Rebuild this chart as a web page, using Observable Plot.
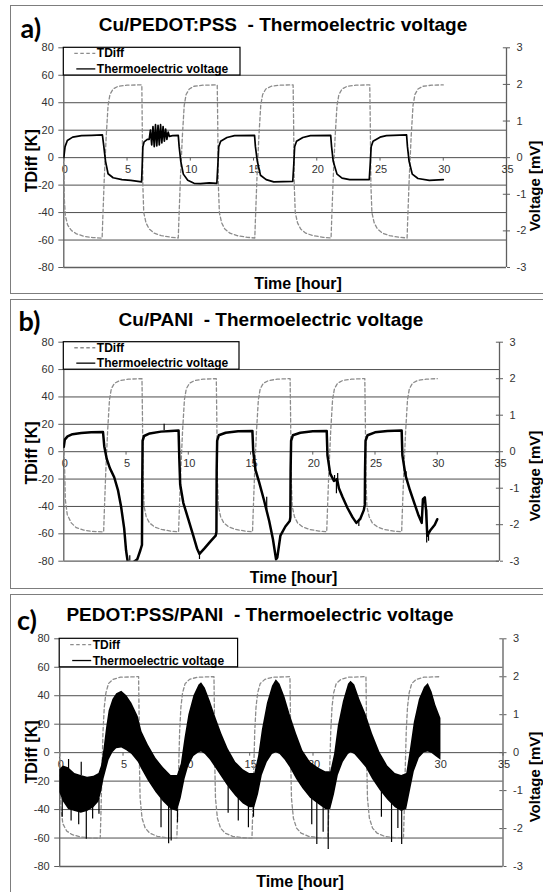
<!DOCTYPE html>
<html><head><meta charset="utf-8">
<script src="https://cdn.jsdelivr.net/npm/d3@7"></script>
<script src="https://cdn.jsdelivr.net/npm/@observablehq/plot@0.6"></script>
<style>
body{margin:0;width:543px;height:892px;overflow:hidden;background:#fff;position:relative;font-family:"Liberation Sans",Arial,sans-serif}
.panel{position:absolute;left:10px;width:620px;border:1.5px solid #7d7d7d;box-sizing:border-box;background:#fff}
.plotbox{position:absolute;left:0}
svg text{white-space:pre}
</style></head><body>
<div class="panel" style="top:5px;height:289px"></div>
<div class="panel" style="top:299px;height:290px"></div>
<div class="panel" style="top:594px;height:320px"></div>
<div id="pa" class="plotbox" style="top:0px"></div>
<div id="pb" class="plotbox" style="top:299px"></div>
<div id="pc" class="plotbox" style="top:594px"></div>
<script>
// ---- axes / ticks ----
const xTicks = [0, 5, 10, 15, 20, 25, 30, 35];
const leftTicks = [-80, -60, -40, -20, 0, 20, 40, 60, 80];
const rightTicks = [-3, -2, -1, 0, 1, 2, 3];
const gridLevels = [-60, -40, -20, 0, 20, 40, 60];
const titles = ["Cu/PEDOT:PSS  - Thermoelectric voltage", "Cu/PANI  - Thermoelectric voltage", "PEDOT:PSS/PANI  - Thermoelectric voltage"];
const panelLabels = ["a)", "b)", "c)"];
const seriesNames = ["TDiff", "Thermoelectric voltage"];

// ---- panel a : [hour, K] and [hour, mV] ----
const tdiffA = [
[0,0],[0.04,-30],[0.12,-42],[0.3,-49],[0.6,-53],[1.0,-55.5],[1.6,-57.3],[2.3,-58.2],[3.03,-58.6],
[3.08,-45],[3.2,-15],[3.35,15],[3.5,38],[3.65,46],[3.9,50],[4.3,52],[5,52.8],[6.17,53],
[6.2,25],[6.25,-20],[6.32,-40],[6.5,-47.5],[6.75,-52],[7.15,-55],[7.7,-56.8],[8.5,-58],[9.05,-58.5],
[9.1,-45],[9.22,-15],[9.37,15],[9.52,38],[9.67,46],[9.92,50],[10.3,52],[11,52.8],[12.13,53],
[12.17,25],[12.22,-20],[12.3,-40],[12.48,-47.5],[12.73,-52],[13.13,-55],[13.7,-56.8],[14.5,-58],[15.1,-58.5],
[15.15,-45],[15.27,-15],[15.42,15],[15.57,38],[15.72,46],[15.97,50],[16.4,52],[17.1,52.8],[18.13,53],
[18.17,25],[18.22,-20],[18.3,-40],[18.48,-47.5],[18.73,-52],[19.13,-55],[19.7,-56.8],[20.5,-58],[21.13,-58.5],
[21.18,-45],[21.3,-15],[21.45,15],[21.6,38],[21.75,46],[22.0,50],[22.4,52],[23.1,52.8],[24.19,53],
[24.23,25],[24.28,-20],[24.36,-40],[24.54,-47.5],[24.8,-52],[25.2,-55],[25.75,-56.8],[26.5,-58],[27.14,-58.5],
[27.19,-45],[27.31,-15],[27.46,15],[27.61,38],[27.76,46],[28.0,50],[28.4,52],[29.1,52.8],[30,53]
];
const voltA = [
[0,0],[0.1,0.3],[0.28,0.47],[0.7,0.56],[1.4,0.6],[2.2,0.61],[3.05,0.62],
[3.15,0.35],[3.3,-0.1],[3.5,-0.44],[3.9,-0.55],[4.6,-0.6],[5.3,-0.62],[6.15,-0.66],
[6.2,-0.2],[6.25,0.3],[6.35,0.43],[6.6,0.5],
[6.75,0.5],[6.85,0.75],[6.95,0.35],[7.05,0.85],[7.15,0.3],[7.25,0.9],[7.35,0.32],[7.45,0.88],[7.55,0.35],[7.65,0.9],[7.75,0.4],[7.85,0.85],[7.95,0.45],[8.05,0.78],[8.15,0.5],[8.25,0.7],[8.35,0.58],
[8.6,0.6],[9.05,0.61],
[9.12,0.3],[9.25,-0.1],[9.45,-0.45],[9.8,-0.62],[10.3,-0.7],[10.8,-0.71],[11.5,-0.69],[12.1,-0.7],
[12.18,-0.2],[12.25,0.3],[12.4,0.45],[12.9,0.55],[13.5,0.6],[15.08,0.61],
[15.15,0.3],[15.3,-0.1],[15.55,-0.48],[16,-0.6],[16.6,-0.66],[18.1,-0.65],
[18.18,-0.2],[18.25,0.3],[18.4,0.45],[18.9,0.55],[19.5,0.6],[21.1,0.61],
[21.17,0.3],[21.3,-0.1],[21.6,-0.45],[22,-0.56],[22.6,-0.6],[24.15,-0.6],
[24.22,-0.2],[24.3,0.3],[24.45,0.45],[25,0.56],[25.5,0.6],[27.1,0.62],
[27.17,0.3],[27.3,-0.1],[27.55,-0.45],[28,-0.57],[28.9,-0.62],[30,-0.6]
];

// ---- panel b ----
const tdiffB = [
[0,0],[0.06,-10],[0.12,-35],[0.28,-46],[0.6,-52],[1.0,-55.5],[1.6,-57.3],[2.3,-58.2],[3.2,-58.6],
[3.25,-45],[3.37,-15],[3.52,15],[3.67,38],[3.82,46],[4.07,50],[4.5,52],[5.2,53],[6.28,53.4],
[6.32,25],[6.37,-20],[6.45,-40],[6.62,-47.5],[6.88,-52],[7.3,-55],[7.85,-56.8],[8.6,-58],[9.22,-58.5],
[9.27,-45],[9.39,-15],[9.54,15],[9.69,38],[9.84,46],[10.1,50],[10.5,52],[11.2,53],[12.25,53.4],
[12.29,25],[12.34,-20],[12.42,-40],[12.6,-47.5],[12.85,-52],[13.25,-55],[13.8,-56.8],[14.6,-58],[15.16,-58.5],
[15.21,-45],[15.33,-15],[15.48,15],[15.63,38],[15.78,46],[16.03,50],[16.45,52],[17.15,53],[18.18,53.4],
[18.22,25],[18.27,-20],[18.35,-40],[18.53,-47.5],[18.78,-52],[19.2,-55],[19.75,-56.8],[20.5,-58],[21.12,-58.5],
[21.17,-45],[21.29,-15],[21.44,15],[21.59,38],[21.74,46],[21.99,50],[22.4,52],[23.1,53],[24.18,53.4],
[24.22,25],[24.27,-20],[24.35,-40],[24.53,-47.5],[24.78,-52],[25.2,-55],[25.75,-56.8],[26.5,-58],[27.14,-58.5],
[27.19,-45],[27.31,-15],[27.46,15],[27.61,38],[27.76,46],[28.01,50],[28.4,52],[29.1,53],[30,53.4]
];
const voltB = [
[0,0.13],[0.08,0.33],[0.3,0.42],[0.7,0.48],[1.4,0.51],[2.2,0.53],[3.15,0.54],
[3.25,0.15],[3.45,-0.2],[3.7,-0.45],[4.05,-0.7],[4.35,-1.05],[4.6,-1.5],[4.85,-2.1],[5.0,-2.7],[5.15,-3.05],[5.5,-3.05],[5.9,-2.95],[6.15,-2.7],[6.28,-2.55],
[6.3,-1.0],[6.33,0.3],[6.45,0.43],[6.9,0.5],[7.8,0.55],[8.6,0.57],[9.22,0.58],
[9.28,-0.2],[9.35,-0.9],[9.6,-1.4],[10.0,-1.85],[10.4,-2.3],[10.7,-2.65],[10.9,-2.8],[11.3,-2.65],[11.8,-2.45],[12.2,-2.3],[12.26,-2.2],
[12.28,-0.5],[12.32,0.3],[12.45,0.45],[13.0,0.52],[14.0,0.56],[15.15,0.57],
[15.22,0.0],[15.4,-0.5],[15.7,-0.85],[16.1,-1.35],[16.5,-1.9],[16.8,-2.4],[17.05,-2.95],[17.15,-2.9],[17.4,-2.3],[17.8,-2.05],[18.15,-1.9],[18.2,-1.8],
[18.22,-0.5],[18.26,0.3],[18.4,0.45],[19,0.52],[20,0.56],[21.12,0.57],
[21.18,-0.1],[21.4,-0.6],[21.7,-0.8],[21.95,-0.75],[22.1,-1.0],[22.4,-1.25],[22.8,-1.55],[23.2,-1.8],[23.5,-1.95],[23.8,-1.85],[24.1,-1.6],[24.18,-1.45],
[24.2,-0.5],[24.24,0.3],[24.4,0.45],[25,0.53],[26,0.57],[27.14,0.58],
[27.2,-0.1],[27.45,-0.65],[27.8,-1.05],[28.2,-1.45],[28.5,-1.75],[28.75,-1.95],[28.85,-1.3],[29.0,-1.25],[29.1,-1.6],[29.2,-2.3],[29.45,-2.15],[29.8,-2.0],[30,-1.85]
];
// [hour, from mV, to mV] isolated spikes on the b trace
const spikesB = [
[8.06,0.58,0.75],[16.3,-1.6,-1.25],[21.75,-0.8,-0.65],[21.9,-0.78,-1.15],[22.0,-0.8,-0.6],[23.7,-1.85,-2.05],
[27.5,-0.7,-0.55],[29.15,-1.6,-2.5],[29.3,-2.2,-2.45],[10.9,-2.8,-2.95],[5.3,-3.0,-2.85]
];

// ---- panel c ----
const tdiffC = [
[0,0],[0.04,-15],[0.08,-38],[0.25,-50],[0.55,-55],[0.95,-57.5],[1.6,-59.2],[2.4,-60],[3.2,-60.2],
[3.25,-45],[3.33,-15],[3.42,15],[3.52,32],[3.65,42],[3.85,48.5],[4.2,51.5],[4.8,53],[6.23,53.4],
[6.27,25],[6.3,-10],[6.35,-32],[6.5,-46],[6.75,-53],[7.1,-56.5],[7.7,-58.8],[8.5,-59.8],[9.25,-60.2],
[9.3,-45],[9.38,-15],[9.47,15],[9.57,32],[9.7,42],[9.9,48.5],[10.25,51.5],[10.85,53],[12.18,53.4],
[12.22,25],[12.25,-10],[12.3,-32],[12.45,-46],[12.7,-53],[13.05,-56.5],[13.65,-58.8],[14.45,-59.8],[15.18,-60.2],
[15.23,-45],[15.31,-15],[15.4,15],[15.5,32],[15.63,42],[15.83,48.5],[16.2,51.5],[16.8,53],[18.18,53.4],
[18.22,25],[18.25,-10],[18.3,-32],[18.45,-46],[18.7,-53],[19.05,-56.5],[19.65,-58.8],[20.45,-59.8],[21.18,-60.2],
[21.23,-45],[21.31,-15],[21.4,15],[21.5,32],[21.63,42],[21.83,48.5],[22.2,51.5],[22.8,53],[24.18,53.4],
[24.22,25],[24.25,-10],[24.3,-32],[24.45,-46],[24.7,-53],[25.05,-56.5],[25.65,-58.8],[26.45,-59.8],[27.14,-60.2],
[27.19,-45],[27.27,-15],[27.36,15],[27.46,32],[27.59,42],[27.79,48.5],[28.15,51.5],[28.75,53],[30.1,53.4]
];
// [hour, lower mV, upper mV] envelope of the noisy voltage trace
const bandC = [
[0.0,-1.05,-0.45],[0.3,-1.3,-0.35],[0.7,-1.5,-0.4],[1.2,-1.55,-0.55],[1.7,-1.6,-0.6],[2.2,-1.55,-0.65],[2.7,-1.45,-0.62],[3.1,-1.3,-0.55],[3.3,-1.05,-0.35],
[3.5,-0.7,0.1],[3.7,-0.45,0.65],[3.9,-0.2,1.1],[4.2,0.0,1.4],[4.5,0.1,1.55],[4.9,0.12,1.62],[5.3,0.05,1.5],[5.7,-0.05,1.3],[6.2,-0.25,0.95],[6.5,-0.45,0.55],[7.0,-0.75,0.2],[7.6,-1.05,-0.15],[8.2,-1.3,-0.4],[8.8,-1.5,-0.6],[9.3,-1.55,-0.6],
[9.6,-1.2,-0.3],[9.9,-0.7,0.4],[10.2,-0.35,1.0],[10.6,-0.1,1.5],[11.0,0.0,1.78],[11.2,0.02,1.84],[11.5,-0.05,1.7],[11.9,-0.2,1.35],[12.3,-0.4,0.95],[12.8,-0.65,0.5],[13.3,-0.9,0.1],[13.9,-1.15,-0.25],[14.5,-1.35,-0.45],[15.0,-1.45,-0.55],[15.4,-1.45,-0.55],
[15.7,-1.1,-0.1],[16.0,-0.6,0.6],[16.4,-0.25,1.3],[16.8,-0.05,1.75],[17.1,0.0,1.92],[17.4,-0.05,1.8],[17.8,-0.2,1.45],[18.2,-0.4,1.0],[18.7,-0.7,0.5],[19.2,-0.95,0.05],[19.8,-1.2,-0.25],[20.4,-1.35,-0.4],[21.0,-1.5,-0.5],[21.4,-1.5,-0.5],
[21.7,-1.1,-0.05],[22.0,-0.6,0.7],[22.4,-0.25,1.35],[22.8,-0.05,1.8],[23.0,0.0,1.88],[23.3,-0.05,1.78],[23.7,-0.2,1.4],[24.2,-0.4,1.0],[24.7,-0.7,0.5],[25.3,-1.0,0.0],[25.9,-1.25,-0.35],[26.5,-1.45,-0.55],[27.0,-1.55,-0.6],[27.4,-1.5,-0.55],
[27.7,-1.0,0.1],[28.0,-0.5,0.8],[28.4,-0.15,1.4],[28.8,0.0,1.72],[29.1,0.02,1.82],[29.4,-0.02,1.6],[29.7,-0.1,1.25],[30.1,-0.2,0.9]
];
// [hour, from mV, to mV] isolated spikes
const spikesC = [
[0.2,-1.2,-1.7],[0.9,-1.4,-1.8],[1.5,-1.5,-1.9],[2.1,-1.5,-2.28],[2.6,-1.4,-1.75],[3.1,-1.2,-1.62],
[0.7,-0.45,-0.18],[1.7,-0.6,-0.25],
[8.0,-1.2,-1.98],[8.6,-1.4,-2.4],[8.8,-1.45,-2.33],[9.3,-1.5,-1.85],
[13.3,-0.9,-1.6],[14.1,-1.2,-1.8],[14.9,-1.4,-1.98],[15.3,-1.4,-1.7],
[19.9,-1.1,-1.9],[20.3,-1.3,-2.42],[20.8,-1.45,-2.1],[21.2,-1.5,-2.55],
[25.4,-1.0,-1.7],[26.2,-1.3,-2.37],[26.7,-1.4,-2.0],[27.0,-1.5,-2.42]
];

const K_PER_MV = 80 / 3;
const AX = "#5f5f5f";

function makePanel(o) {
  const marks = [
    Plot.ruleY(gridLevels, {stroke: "#4d4d4d", strokeWidth: 1}),
    Plot.ruleY([-80], {stroke: AX, strokeWidth: 1.3}),
    Plot.ruleX([0, 35], {stroke: AX, strokeWidth: 1.3}),
    Plot.axisY(leftTicks, {anchor: "left", tickSize: 5, tickPadding: 5, stroke: AX, fill: "#333", fontSize: 11, tickFormat: d => String(d), label: null}),
    Plot.axisY(rightTicks.map(v => v * K_PER_MV), {anchor: "right", tickSize: 3, tickPadding: 7, stroke: AX, fill: "#333", fontSize: 11, tickFormat: d => String(Math.round(d / K_PER_MV)), label: null}),
    Plot.ruleY(rightTicks.map(v => v * K_PER_MV), {x1: 34.75, x2: 35, stroke: AX}),
    Plot.ruleX(xTicks, {x: d => d, y1: 0, y2: -2.5, stroke: AX}),
    Plot.text(xTicks, {x: d => d, y: 0, dy: 12, dx: 1, text: d => String(d), fill: "#333", fontSize: 11}),
    Plot.line(o.tdiff, {x: d => d[0], y: d => d[1], stroke: "#8c8c8c", strokeWidth: 1.3, strokeDasharray: "3.5,2.5"})
  ];
  if (o.band) marks.push(Plot.areaY(o.band, {x: d => d[0], y1: d => d[1] * K_PER_MV, y2: d => d[2] * K_PER_MV, fill: "#000", clip: true}));
  if (o.spikes) marks.push(Plot.ruleX(o.spikes, {x: d => d[0], y1: d => d[1] * K_PER_MV, y2: d => d[2] * K_PER_MV, stroke: "#000", strokeWidth: 1.2, clip: true}));
  if (o.volt) marks.push(Plot.line(o.volt, {x: d => d[0], y: d => d[1] * K_PER_MV, stroke: "#000", strokeWidth: o.vw, strokeLinejoin: "round", clip: true}));
  return Plot.plot({
    width: 543, height: o.height,
    marginLeft: o.ml, marginRight: o.mr, marginTop: o.mt, marginBottom: o.mb,
    x: {domain: [0, 35], axis: null},
    y: {domain: [-80, 80]},
    style: {background: "transparent", fontFamily: "'Liberation Sans', Arial, sans-serif"},
    marks
  });
}

document.getElementById("pa").append(makePanel({tdiff: tdiffA, volt: voltA, vw: 1.7, height: 294, ml: 63.3, mr: 37, mt: 47.3, mb: 27}));
document.getElementById("pb").append(makePanel({tdiff: tdiffB, volt: voltB, spikes: spikesB, vw: 2.5, height: 290, ml: 63.3, mr: 44, mt: 42.7, mb: 28.3}));
document.getElementById("pc").append(makePanel({tdiff: tdiffC, band: bandC, spikes: spikesC, height: 298, ml: 59.2, mr: 40.5, mt: 44.3, mb: 26}));

// ---- overlay text: titles, labels, legends ----
const ov = d3.select("body").append("svg")
  .attr("width", 543).attr("height", 892)
  .style("position", "absolute").style("left", 0).style("top", 0)
  .style("font-family", "'Liberation Sans', Arial, sans-serif");

const layout = [
  {title: [283, 30.7], tag: [20.5, 38.3], time: [298, 288.5], tdiff: [37.4, 160.8], volt: [539.5, 186], leg: [63.3, 47.3, 240, 75]},
  {title: [271, 326], tag: [18.5, 330.5], time: [293.5, 582.5], tdiff: [37.4, 453], volt: [539.5, 476], leg: [63.3, 341.7, 239, 369.2]},
  {title: [260, 621], tag: [17, 630], time: [300, 887], tdiff: [37.4, 752], volt: [539.5, 777], leg: [59.2, 638.3, 237.6, 666.8]}
];
layout.forEach((L, i) => {
  ov.append("text").attr("x", L.title[0]).attr("y", L.title[1]).attr("text-anchor", "middle")
    .attr("font-size", 19).attr("font-weight", "bold").text(titles[i]);
  ov.append("text").attr("x", L.tag[0]).attr("y", L.tag[1]).attr("font-family", "Lato, 'Open Sans', sans-serif")
    .attr("font-size", 27).attr("font-weight", "bold").text(panelLabels[i]);
  ov.append("text").attr("x", L.time[0]).attr("y", L.time[1]).attr("text-anchor", "middle")
    .attr("font-size", 16).attr("font-weight", "bold").text("Time [hour]");
  ov.append("text").attr("transform", `translate(${L.tdiff[0]},${L.tdiff[1]}) rotate(-90)`).attr("text-anchor", "middle")
    .attr("font-size", 16).attr("font-weight", "bold").text("TDiff [K]");
  ov.append("text").attr("transform", `translate(${L.volt[0]},${L.volt[1]}) rotate(-90)`).attr("text-anchor", "middle")
    .attr("font-size", 15).attr("font-weight", "bold").text("Voltage [mV]");
  const [x0, y0, x1, y1] = L.leg;
  ov.append("rect").attr("x", x0).attr("y", y0).attr("width", x1 - x0).attr("height", y1 - y0)
    .attr("fill", "#fff").attr("stroke", "#000").attr("stroke-width", 1.2);
  const h = y1 - y0;
  const r1 = y0 + h * 0.22, r2 = y0 + h * 0.78;
  ov.append("line").attr("x1", x0 + 11).attr("x2", x0 + 32).attr("y1", r1).attr("y2", r1)
    .attr("stroke", "#8c8c8c").attr("stroke-width", 1.3).attr("stroke-dasharray", "3.5,2.5");
  ov.append("line").attr("x1", x0 + 13).attr("x2", x0 + 32).attr("y1", r2).attr("y2", r2)
    .attr("stroke", "#000").attr("stroke-width", 1.3);
  ov.append("text").attr("x", x0 + 33.5).attr("y", r1 + 4).attr("font-size", 12).attr("font-weight", "bold").text(seriesNames[0]);
  ov.append("text").attr("x", x0 + 33.5).attr("y", r2 + 4).attr("font-size", 12).attr("font-weight", "bold").text(seriesNames[1]);
});
</script>
</body></html>
